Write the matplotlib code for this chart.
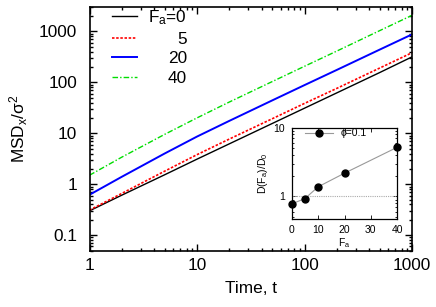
import matplotlib
matplotlib.use("Agg")
import matplotlib.pyplot as plt
from matplotlib.ticker import LogLocator, NullFormatter, FixedLocator

plt.rcParams['font.family'] = ['Liberation Sans', 'DejaVu Sans']
plt.rcParams['mathtext.fontset'] = 'custom'
plt.rcParams['mathtext.rm'] = 'Liberation Sans'
plt.rcParams['mathtext.it'] = 'Liberation Sans'
plt.rcParams['mathtext.default'] = 'regular'

# ---- data ----
t = [1, 2, 5, 10, 20, 50, 100, 200, 500, 1000]
msd_f0 = [0.30, 0.61, 1.53, 3.1, 6.2, 15.5, 31, 62, 155, 315]
msd_f5 = [0.31, 0.66, 1.8, 3.8, 7.7, 19.2, 38.5, 76, 190, 380]
msd_f20 = [0.62, 1.4, 4.0, 8.6, 17.5, 44, 88, 175, 437, 870]
msd_f40 = [1.5, 3.4, 9.5, 20, 41, 103, 206, 410, 1030, 2060]
series_labels = ["F$_a$=0", "5", "20", "40"]

fa_vals = [0, 5, 10, 20, 40]
d_ratio = [0.78, 0.93, 1.38, 2.18, 5.2]
inset_label = "ϕ=0.1"

FS = 12.4
W, H = 436, 307
fig = plt.figure(figsize=(W / 100, H / 100), dpi=100)

# main axes (pixel box)
L, R, T, B = 89.5, 412, 7, 250.5
ax = fig.add_axes([L / W, 1 - B / H, (R - L) / W, (B - T) / H])
ax.set_xscale('log')
ax.set_yscale('log')
ax.plot(t, msd_f0, color='black', lw=1.0, label=series_labels[0])
ax.plot(t, msd_f5, color='red', lw=1.2, ls=(0, (1.5, 1)), label=series_labels[1])
ax.plot(t, msd_f20, color='blue', lw=1.4, label=series_labels[2])
ax.plot(t, msd_f40, color='#00dd00', lw=1.0, ls=(0, (4, 1.5, 1, 1.5)), label=series_labels[3])
ax.set_xlim(1, 1000)
ax.set_ylim(0.05, 3000)
ax.set_yticks([0.1, 1, 10, 100, 1000])
ax.set_yticklabels(["0.1", "1", "10", "100", "1000"])
ax.set_xticks([1, 10, 100, 1000])
ax.set_xticklabels(["1", "10", "100", "1000"])
ax.xaxis.set_minor_locator(LogLocator(base=10, subs=range(2, 10)))
ax.yaxis.set_minor_locator(LogLocator(base=10, subs=range(2, 10)))
ax.xaxis.set_minor_formatter(NullFormatter())
ax.yaxis.set_minor_formatter(NullFormatter())
ax.tick_params(which='both', direction='in', top=True, right=True, labelsize=FS, width=1.0)
ax.tick_params(which='major', length=5)
ax.tick_params(which='minor', length=2.5)
ax.tick_params(axis='x', which='major', pad=5.5)
ax.tick_params(axis='y', which='major', pad=9)
for s in ax.spines.values():
    s.set_linewidth(1.2)
ax.set_xlabel("Time, t", fontsize=FS, labelpad=6)
ax.set_ylabel("MSD$_x$/σ$^2$", fontsize=FS, labelpad=6)

leg = ax.legend(loc='upper left', bbox_to_anchor=(0.07, 0.995), frameon=False,
                fontsize=FS, handlelength=1.45, handletextpad=0.64,
                labelspacing=0.27, borderaxespad=0.0, borderpad=0.0)
fig.canvas.draw()
renderer = fig.canvas.get_renderer()
widths = [tx.get_window_extent(renderer).width for tx in leg.get_texts()]
maxw = max(widths)
for tx, w in zip(leg.get_texts(), widths):
    tx.set_position((maxw - w, 0))

# inset axes
iL, iR, iT, iB = 291.7, 397.3, 127.7, 219
ia = fig.add_axes([iL / W, 1 - iB / H, (iR - iL) / W, (iB - iT) / H])
ia.set_yscale('log')
ia.plot(fa_vals, d_ratio, color='#999999', lw=0.8, marker='o', ms=5,
        mfc='black', mec='black', clip_on=False, zorder=3, label=inset_label)
ia.axhline(1.0, color='#aaaaaa', lw=0.8, ls=(0, (1, 1)))
ia.set_xlim(0, 40)
ia.set_ylim(0.47, 10)
ia.set_xticks([0, 10, 20, 30, 40])
ia.yaxis.set_major_locator(FixedLocator([1, 10]))
ia.set_yticklabels(["1", "10"])
ia.yaxis.set_minor_locator(LogLocator(base=10, subs=range(2, 10)))
ia.yaxis.set_minor_formatter(NullFormatter())
ia.tick_params(which='both', direction='in', top=True, right=True, labelsize=7.5, width=0.6)
ia.tick_params(which='major', length=3)
ia.tick_params(axis='x', which='major', pad=4)
ia.tick_params(axis='y', which='major', pad=5)
ia.tick_params(which='minor', length=1.5)
for s in ia.spines.values():
    s.set_linewidth(0.9)
ia.set_xlabel("F$_a$", fontsize=7.5, labelpad=1)
ia.set_ylabel("D(F$_a$)/D$_0$", fontsize=7.5, labelpad=2)
ia.legend(loc='upper left', bbox_to_anchor=(0.125, 0.995), frameon=False, fontsize=7.5,
          handlelength=2.7, borderaxespad=0.0, handletextpad=0.77, borderpad=0.0)

fig.savefig("out.png", dpi=100)
